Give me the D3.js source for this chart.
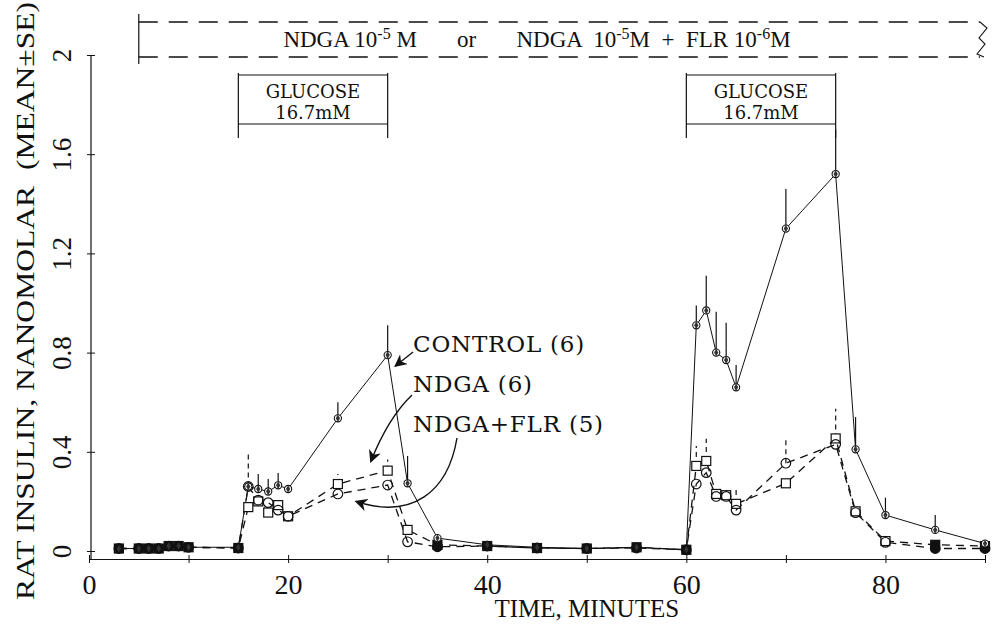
<!DOCTYPE html>
<html>
<head>
<meta charset="utf-8">
<script src="https://cdn.jsdelivr.net/npm/d3@7"></script>
<style>
  body { margin: 0; background: #fff; }
  svg { display: block; background: #fff; }
</style>
</head>
<body>
<svg class="chart" width="992" height="625"></svg>
<script>
// minutes
var time    = [3, 5, 6, 7, 8, 9, 10, 15, 16, 17, 18, 19, 20, 25, 30, 32, 35, 40, 45, 50, 55, 60,
               61, 62, 63, 64, 65, 70, 75, 77, 80, 85, 90];
// insulin, nM (mean) and SE
var control = [0.01, 0.01, 0.01, 0.01, 0.02, 0.02, 0.015, 0.015, 0.26, 0.25, 0.24, 0.265, 0.25, 0.535, 0.79, 0.273, 0.052,
               0.025, 0.015, 0.01, 0.015, 0.005, 0.91, 0.97, 0.80, 0.77, 0.66, 1.30, 1.52, 0.41, 0.145, 0.085, 0.03];
var controlSE = [0, 0, 0, 0, 0, 0, 0, 0, 0, 0.06, 0.05, 0.05, 0, 0.065, 0.12, 0.11, 0,
                 0, 0, 0, 0, 0, 0.08, 0.14, 0.165, 0.15, 0.09, 0.16, 0.18, 0.13, 0.07, 0.06, 0.01];
var ndga    = [0.01, 0.01, 0.01, 0.01, 0.02, 0.02, 0.015, 0.012, 0.177, 0.20, 0.155, 0.185, 0.14, 0.27, 0.324, 0.085, 0.025,
               0.02, 0.012, 0.01, 0.015, 0.005, 0.343, 0.363, 0.23, 0.225, 0.19, 0.273, 0.454, 0.16, 0.04, 0.025, 0.02];
var ndgaSE  = [0, 0, 0, 0, 0, 0, 0, 0, 0, 0, 0, 0, 0.03, 0.04, 0.045, 0.03, 0,
               0, 0, 0, 0, 0, 0.08, 0.09, 0.03, 0.03, 0.07, 0, 0.12, 0, 0, 0, 0];
var ndgaFlr = [0.01, 0.01, 0.01, 0.01, 0.02, 0.02, 0.015, 0.012, 0.26, 0.205, 0.195, 0.165, 0.14, 0.23, 0.266, 0.037, 0.017,
               0.02, 0.012, 0.01, 0.012, 0.005, 0.27, 0.316, 0.22, 0.22, 0.165, 0.354, 0.43, 0.155, 0.035, 0.01, 0.01];
var ndgaFlrSE = [0, 0, 0, 0, 0, 0, 0, 0, 0.13, 0, 0, 0, 0, 0, 0, 0, 0,
                 0, 0, 0, 0, 0, 0, 0, 0, 0, 0, 0.10, 0, 0, 0, 0, 0];

var yTicks = [0, 0.4, 0.8, 1.2, 1.6, 2];
var yTickLabels = ['0', '0.4', '0.8', '1.2', '1.6', '2'];
var xTicks = [0, 10, 20, 30, 40, 50, 60, 70, 80, 90];
var xTickLabels = ['0', '', '20', '', '40', '', '60', '', '80', ''];
var glucose = [[15, 30], [60, 75]];
var drugStart = 5;
var legendNames = ['CONTROL (6)', 'NDGA (6)', 'NDGA+FLR (5)'];

(function() {
  'use strict';
  var svg = d3.select('.chart');
  var serif = '"Liberation Serif", "DejaVu Serif", serif';
  var wide = '"DejaVu Serif", serif';

  var x = d3.scaleLinear().domain([0, 90]).range([89, 985]);
  var y = d3.scaleLinear().domain([0, 2]).range([551, 55]);
  var baseY = 559;

  // ---- axes
  var yAxis = svg.append('g')
      .attr('transform', 'translate(91,0)')
      .call(d3.axisLeft(y).tickValues(yTicks).tickSizeOuter(0)
        .tickFormat(function(d, i) { return yTickLabels[i]; }));
  yAxis.select('.domain').remove();
  yAxis.selectAll('.tick line').attr('x1', 4).attr('x2', -4).attr('stroke', '#111');
  yAxis.selectAll('.tick text')
      .attr('x', 0).attr('dy', 0)
      .attr('transform', 'translate(-20,0) rotate(-90)')
      .attr('text-anchor', 'middle')
      .style('font-family', serif).style('font-size', '27px').attr('fill', '#111');
  svg.append('line')
      .attr('x1', 91).attr('x2', 91).attr('y1', y(2)).attr('y2', baseY)
      .attr('stroke', '#111').attr('stroke-width', 1.2);

  var xAxis = svg.append('g')
      .attr('transform', 'translate(0,' + baseY + ')')
      .call(d3.axisBottom(x).tickValues(xTicks).tickSizeOuter(0)
        .tickFormat(function(d, i) { return xTickLabels[i]; }));
  xAxis.select('.domain').attr('stroke', '#111').attr('stroke-width', 1.2);
  xAxis.selectAll('.tick line').attr('y1', -4).attr('y2', 4).attr('stroke', '#111');
  xAxis.selectAll('.tick text')
      .attr('y', 35).attr('dy', 0)
      .style('font-family', serif).style('font-size', '28px').attr('fill', '#111');

  svg.append('text')
      .attr('x', x(50)).attr('y', 617)
      .attr('text-anchor', 'middle')
      .style('font-family', serif).style('font-size', '25px').attr('fill', '#111')
      .text('TIME, MINUTES');

  svg.append('text')
      .attr('transform', 'translate(34,600) rotate(-90)')
      .style('font-family', serif).style('font-size', '26px').style('white-space', 'pre')
      .attr('fill', '#111')
      .attr('textLength', 598).attr('lengthAdjust', 'spacingAndGlyphs')
      .text('RAT INSULIN, NANOMOLAR  (MEAN\u00B1SE)');

  // ---- drug banner
  var bTop = 22, bBot = 57, bRight = 980;
  svg.append('line').attr('x1', x(drugStart)).attr('x2', x(drugStart)).attr('y1', 14).attr('y2', 64)
      .attr('stroke', '#111').attr('stroke-width', 1.2);
  [bTop, bBot].forEach(function(yy) {
    svg.append('line').attr('x1', x(drugStart)).attr('x2', bRight).attr('y1', yy).attr('y2', yy)
        .attr('stroke', '#111').attr('stroke-width', 1.3).attr('stroke-dasharray', '19,11');
  });
  svg.append('path')
      .attr('d', 'M' + bRight + ',' + bTop + ' l7,6 l-8,10 l6,6 l-8,10 l7,3')
      .attr('fill', 'none').attr('stroke', '#111').attr('stroke-width', 1.1);
  var bt = svg.append('text')
      .attr('x', 537).attr('y', 47).attr('text-anchor', 'middle')
      .style('font-family', serif).style('font-size', '23px').style('white-space', 'pre')
      .attr('fill', '#111');
  bt.append('tspan').text('NDGA 10');
  bt.append('tspan').attr('dy', -8).style('font-size', '16px').text('-5');
  bt.append('tspan').attr('dy', 8).text(' M       or       NDGA  10');
  bt.append('tspan').attr('dy', -8).style('font-size', '16px').text('-5');
  bt.append('tspan').attr('dy', 8).text('M  +  FLR 10');
  bt.append('tspan').attr('dy', -8).style('font-size', '16px').text('-6');
  bt.append('tspan').attr('dy', 8).text('M');

  // ---- glucose boxes
  var gb = svg.selectAll('g.glu').data(glucose).enter().append('g').attr('class', 'glu');
  gb.append('path')
      .attr('d', function(d) {
        return 'M' + x(d[0]) + ',138 V73 M' + x(d[0]) + ',75 H' + x(d[1]) +
               ' M' + x(d[1]) + ',73 V138 M' + x(d[0]) + ',124 H' + x(d[1]);
      })
      .attr('fill', 'none').attr('stroke', '#111').attr('stroke-width', 1.2);
  gb.append('text')
      .attr('x', function(d) { return (x(d[0]) + x(d[1])) / 2; }).attr('y', 98)
      .attr('text-anchor', 'middle')
      .style('font-family', wide).style('font-size', '18px').attr('fill', '#111')
      .text('GLUCOSE');
  gb.append('text')
      .attr('x', function(d) { return (x(d[0]) + x(d[1])) / 2; }).attr('y', 119)
      .attr('text-anchor', 'middle')
      .style('font-family', wide).style('font-size', '18px').attr('fill', '#111')
      .text('16.7mM');

  // ---- series
  var series = [
    { name: 'control', v: control, se: controlSE, dash: null },
    { name: 'ndga', v: ndga, se: ndgaSE, dash: '8,6' },
    { name: 'flr', v: ndgaFlr, se: ndgaFlrSE, dash: '8,6' }
  ];

  series.forEach(function(s) {
    var pts = time.map(function(t, i) { return { t: t, v: s.v[i], se: s.se[i] }; });
    var line = d3.line()
        .x(function(d) { return x(d.t); })
        .y(function(d) { return y(d.v); });
    svg.append('path')
        .datum(pts)
        .attr('d', line)
        .attr('fill', 'none').attr('stroke', '#111')
        .attr('stroke-width', s.dash ? 1.3 : 1)
        .attr('stroke-dasharray', s.dash);
    svg.append('g').selectAll('line')
        .data(pts.filter(function(d) { return d.se > 0; }))
      .enter().append('line')
        .attr('x1', function(d) { return x(d.t); })
        .attr('x2', function(d) { return x(d.t); })
        .attr('y1', function(d) { return y(d.v); })
        .attr('y2', function(d) { return y(d.v + d.se); })
        .attr('stroke', '#111').attr('stroke-width', 1.2)
        .attr('stroke-dasharray', s.dash ? '5,4' : null);
    s.pts = pts;
  });

  // markers
  var sq = series[1].pts, ci = series[2].pts, ct = series[0].pts;
  svg.append('g').selectAll('rect')
      .data(sq)
    .enter().append('rect')
      .attr('x', function(d) { return x(d.t) - 4.5; })
      .attr('y', function(d) { return y(d.v) - 4.5; })
      .attr('width', 9).attr('height', 9)
      .attr('fill', function(d) { return d.v < 0.03 ? '#111' : '#fff'; })
      .attr('stroke', '#111').attr('stroke-width', 1.2);
  svg.append('g').selectAll('circle')
      .data(ci)
    .enter().append('circle')
      .attr('cx', function(d) { return x(d.t); })
      .attr('cy', function(d) { return y(d.v); })
      .attr('r', 4.8)
      .attr('fill', function(d) { return d.v < 0.03 ? '#111' : 'none'; })
      .attr('stroke', '#111').attr('stroke-width', 1.2);
  var cg = svg.append('g').selectAll('g')
      .data(ct)
    .enter().append('g')
      .attr('transform', function(d) { return 'translate(' + x(d.t) + ',' + y(d.v) + ')'; });
  cg.append('circle').attr('r', 3.6)
      .attr('fill', function(d) { return d.v < 0.03 ? '#111' : '#fff'; })
      .attr('stroke', '#111').attr('stroke-width', 1.1);
  cg.append('path').attr('d', d3.symbol(d3.symbolDiamond).size(16)).attr('fill', '#333');

  // ---- labels + arrows
  svg.append('defs').append('marker')
      .attr('id', 'ah').attr('viewBox', '0 0 10 10').attr('refX', 9).attr('refY', 5)
      .attr('markerWidth', 9).attr('markerHeight', 9).attr('orient', 'auto')
    .append('path').attr('d', 'M0,0 L10,5 L0,10 L3,5 Z').attr('fill', '#111');

  svg.selectAll('text.leg').data(legendNames).enter().append('text')
      .attr('class', 'leg')
      .attr('x', 413).attr('y', function(d, i) { return 352 + i * 40; })
      .style('font-family', wide).style('font-size', '23px').style('letter-spacing', '0.8px')
      .attr('fill', '#111')
      .text(function(d) { return d; });

  var arrows = [
    'M413,352 L' + x(30.75) + ',' + y(0.745),
    'M412,395 Q388,418 ' + x(28.3) + ',' + y(0.36),
    'M457,438 C448,492 412,520 ' + x(26.8) + ',' + y(0.2)
  ];
  svg.selectAll('path.arr').data(arrows).enter().append('path')
      .attr('class', 'arr')
      .attr('d', function(d) { return d; })
      .attr('fill', 'none').attr('stroke', '#111').attr('stroke-width', 1.4)
      .attr('marker-end', 'url(#ah)');
}());
</script>
</body>
</html>
